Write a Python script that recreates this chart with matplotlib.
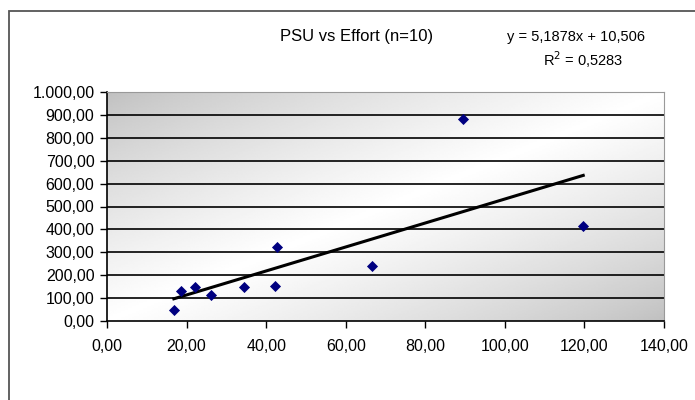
import numpy as np
import matplotlib
matplotlib.use("Agg")
import matplotlib.pyplot as plt
from matplotlib.patches import Rectangle
from matplotlib.ticker import FuncFormatter

# effort vs PSU
effort = [16.8, 18.5, 22.1, 26.2, 34.5, 42.2, 42.7, 66.6, 89.4, 119.7]
psu = [48, 131, 147, 112, 149, 151, 325, 241, 880, 413]

title_text = "PSU vs Effort (n=10)"
eq_text = "y = 5,1878x + 10,506"
r2_text = "R$^2$ = 0,5283"

x_ticks = np.arange(0, 141, 20)
y_ticks = np.arange(0, 1001, 100)


# number format like 1.000,00
def euro_fmt(v, pos=None):
    s = f"{v:,.2f}"
    return s.replace(",", "X").replace(".", ",").replace("X", ".")


plt.rcParams['font.family'] = ['Liberation Sans', 'DejaVu Sans']

fig = plt.figure(figsize=(6.95, 4.0), dpi=100)

# outer frame (only left and top edges are visible)
fig.patches.append(Rectangle((9 / 695, -0.1), 1.2, (400 - 11) / 400 + 0.1,
                             transform=fig.transFigure, fill=False,
                             edgecolor="#555555", linewidth=1.3))

ax = fig.add_axes([107 / 695, (400 - 321) / 400, 557 / 695, 229 / 400])

# diagonal grey - white - grey fill
gx, gy = np.meshgrid(np.linspace(0, 1, 300), np.linspace(0, 1, 150))
t = (gx + (1 - gy)) / 2
shade = 0.75 + 0.25 * (1 - np.abs(t - 0.5) * 2) ** 0.8
ax.imshow(shade, cmap="gray", vmin=0, vmax=1, extent=[0, 140, 0, 1000],
          origin="lower", aspect="auto", zorder=0, interpolation="bilinear")

for yv in y_ticks[1:-1]:
    ax.axhline(yv, color="black", linewidth=1.2, zorder=1)

# trend line from a linear fit
k, b = np.polyfit(effort, psu, 1)
xs = np.array([min(effort), max(effort)])
ax.plot(xs, k * xs + b, color="black", linewidth=2.2, zorder=2)

ax.scatter(effort, psu, marker="D", s=32, color="#000080", zorder=3,
           linewidths=0)

ax.set_xlim(0, 140)
ax.set_ylim(0, 1000)
ax.set_xticks(x_ticks)
ax.set_yticks(y_ticks)
ax.xaxis.set_major_formatter(FuncFormatter(euro_fmt))
ax.yaxis.set_major_formatter(FuncFormatter(euro_fmt))
ax.tick_params(direction="out", length=5, width=1, labelsize=11.5,
               colors="black")
ax.tick_params(axis="x", pad=8)
ax.tick_params(axis="y", pad=4)

ax.spines["left"].set_linewidth(1.2)
ax.spines["bottom"].set_linewidth(1.2)
ax.spines["top"].set_color("#999999")
ax.spines["right"].set_color("#999999")

fig.text(357 / 695, 1 - 36 / 400, title_text, ha="center", va="center",
         fontsize=12)
fig.text(576 / 695, 1 - 37 / 400, eq_text, ha="center", va="center",
         fontsize=10.5)
fig.text(583 / 695, 1 - 60 / 400, r2_text, ha="center", va="center",
         fontsize=10.5)

fig.savefig("out.png", dpi=100)
